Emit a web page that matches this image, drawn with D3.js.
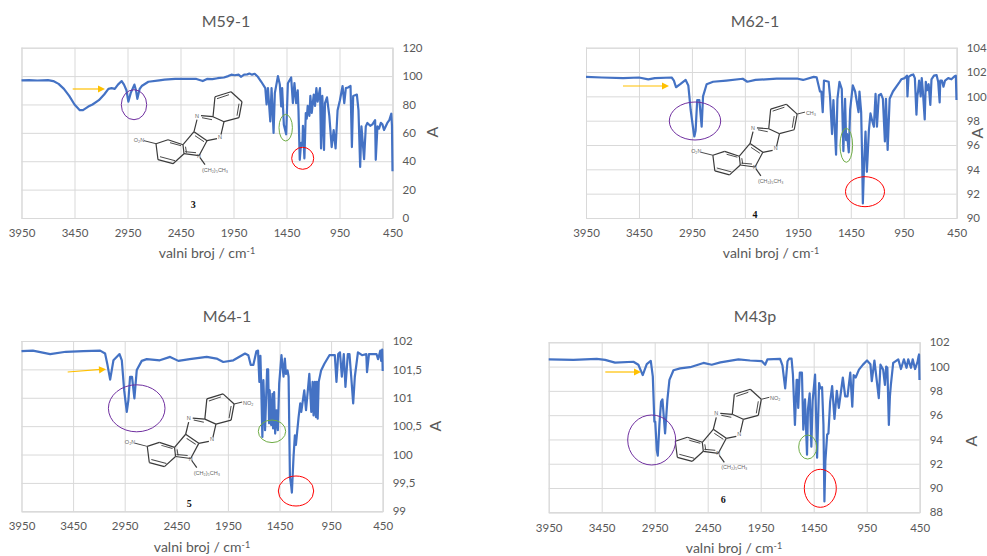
<!DOCTYPE html>
<html><head><meta charset="utf-8">
<style>html,body{margin:0;padding:0;background:#fff}svg{display:block}</style>
<script src="https://cdnjs.cloudflare.com/ajax/libs/d3/7.8.5/d3.min.js"></script>
</head><body><div id="c"></div>
<script>
// Spectra: [wavenumber, A]
const m59 = [[3950,97],[3880,97.2],[3800,96.9],[3700,97.2],[3650,96.5],[3600,94.5],[3550,91],[3500,86],[3450,80],[3400,76],[3370,76],[3320,78.5],[3280,80],[3220,83],[3170,87],[3130,91],[3100,91.5],[3070,91],[3040,94],[3005,96.5],[2983,94],[2960,90],[2942,82],[2920,88],[2885,94],[2870,90],[2857,84],[2835,91],[2816,93],[2753,96],[2650,97],[2600,97.5],[2500,98],[2400,98],[2300,98],[2240,96.5],[2200,98],[2150,97.8],[2100,98.5],[2040,99],[2000,100],[1970,101],[1940,100.6],[1900,101],[1880,99.5],[1850,101],[1820,101.2],[1800,101.8],[1775,101],[1750,101.6],[1720,99.5],[1688,96],[1650,91.5],[1638,80],[1625,91.5],[1603,68],[1591,91.5],[1572,60],[1560,88],[1531,100],[1513,94],[1500,78.6],[1491,91.5],[1475,65.7],[1453,59],[1437,95],[1406,99],[1390,81],[1375,95],[1359,81],[1344,90],[1337,76],[1325,41],[1312,53],[1300,51],[1295,65],[1281,42],[1268,74],[1259,70],[1250,79],[1234,72],[1225,86],[1212,74],[1193,87],[1181,79],[1168,91.5],[1156,82],[1134,91.5],[1124,49],[1112,86],[1096,48],[1087,81],[1068,85],[1046,72],[1024,50],[1005,62],[987,49],[968,76],[946,83],[921,93],[905,81],[890,91.5],[870,92],[846,93],[833,50],[821,86],[786,87],[771,76],[755,36],[743,64.5],[718,41.5],[702,64.5],[687,67],[660,65],[639,66],[614,69],[608,41],[592,64.5],[577,63],[560,67],[545,66],[530,62],[499,67],[480,69],[461,73.5],[455,65],[450,33]];

const m62 = [[3950,101.6],[3800,101.55],[3600,101.5],[3450,101.55],[3362,101.4],[3300,101.5],[3141,101.55],[3120,101.3],[3100,100.75],[3060,101],[3009,101.35],[2984,100.9],[2962,98.9],[2933,97],[2927,96.7],[2915,97.2],[2900,99.7],[2880,99.7],[2858,97.5],[2845,100],[2811,101],[2750,101.2],[2625,101.3],[2470,101.45],[2427,101.2],[2350,101.35],[2150,101.45],[1950,101.45],[1900,101.35],[1800,101.6],[1772,101.56],[1741,100.4],[1728,100.4],[1715,98.7],[1703,101.3],[1659,101.2],[1646,100],[1627,96.9],[1614,99.7],[1589,95.2],[1576,99.8],[1557,101.2],[1535,100.6],[1520,95.5],[1504,99.8],[1494,96.4],[1485,96.9],[1469,95.4],[1456,98.9],[1431,100.9],[1409,100.4],[1377,98.7],[1368,100.4],[1352,98.7],[1343,95],[1336,91.2],[1324,94.5],[1311,97.1],[1298,93.8],[1279,97.2],[1264,98.6],[1248,98],[1232,97.5],[1216,100.2],[1203,97.5],[1185,100.1],[1165,100.2],[1147,99.8],[1128,96.3],[1118,99.8],[1102,95.6],[1083,99.8],[1052,100.4],[995,101.1],[973,101.4],[941,101.5],[920,101.7],[915,100],[905,101.6],[880,101.75],[860,101.8],[845,101.5],[830,98.5],[822,100],[815,100.4],[805,101.3],[790,100],[780,101.5],[770,100.5],[752,98.1],[742,101.2],[730,100.5],[715,101],[699,99.3],[688,101.4],[665,101.7],[640,101.75],[625,101.2],[611,99.5],[605,101.3],[590,101.3],[575,100.8],[560,101.3],[530,101.5],[500,101.4],[470,101.65],[458,101.7],[452,99.7]];

const m64 = [[3950,101.82],[3840,101.83],[3672,101.77],[3520,101.81],[3350,101.82],[3188,101.83],[3140,101.78],[3117,101.58],[3091,101.32],[3059,101.66],[3000,101.77],[2978,101.66],[2955,101.13],[2930,100.75],[2914,100.96],[2898,101.37],[2879,101.37],[2856,100.99],[2833,101.49],[2785,101.65],[2736,101.68],[2610,101.66],[2510,101.72],[2430,101.65],[2320,101.68],[2155,101.72],[2060,101.69],[1995,101.63],[1897,101.66],[1784,101.78],[1752,101.75],[1729,101.58],[1703,101.58],[1674,101.82],[1658,101.83],[1645,101.28],[1635,101.74],[1628,101.28],[1616,100.31],[1606,101.31],[1590,100.43],[1570,101.5],[1560,101.5],[1551,100.55],[1545,101.13],[1531,100.52],[1518,101.07],[1512,100.46],[1502,101.1],[1492,100.37],[1479,100.78],[1466,100.43],[1453,101.25],[1431,101.75],[1411,101.37],[1398,101.69],[1388,101.42],[1372,101.48],[1362,101.37],[1349,99.61],[1336,99.44],[1330,99.33],[1314,99.96],[1301,100.34],[1291,100.17],[1265,100.66],[1249,100.9],[1239,100.75],[1210,101.13],[1193,100.78],[1161,101.42],[1142,100.75],[1129,101.28],[1120,100.69],[1107,101.28],[1097,100.66],[1088,101.28],[1080,100.63],[1070,101.28],[1047,101.48],[1015,101.6],[966,101.75],[914,101.75],[898,101.28],[881,101.77],[864,101.8],[846,101.37],[827,101.77],[811,101.19],[788,101.77],[772,101.77],[755,101.37],[736,100.9],[720,101.37],[690,101.8],[650,101.75],[609,101.77],[602,101.45],[583,101.77],[510,101.77],[495,101.68],[473,101.83],[465,101.65],[455,101.85],[450,101.47]];

const m43 = [[3950,100.6],[3717,100.55],[3497,100.64],[3418,100.55],[3324,100.33],[3151,100.4],[3104,100.15],[3063,99.3],[3025,100.2],[2987,100.47],[2968,99.2],[2953,95.47],[2945,95.47],[2930,93.1],[2921,92.67],[2905,95.3],[2890,97.1],[2877,97.3],[2852,94.5],[2830,97.3],[2811,98.9],[2773,99.7],[2710,99.85],[2616,99.95],[2490,100.3],[2412,100.15],[2330,100.35],[2160,100.6],[2050,100.5],[1940,100.45],[1908,100.15],[1886,100.6],[1767,100.64],[1745,100.1],[1719,98.2],[1697,100.44],[1681,100.66],[1659,100.66],[1646,99.34],[1627,95.2],[1611,98.9],[1604,98.9],[1596,96.6],[1581,99.5],[1561,99.5],[1548,94.8],[1532,97.3],[1513,92.75],[1504,96.5],[1488,97.8],[1472,93.4],[1460,97.2],[1437,99.34],[1418,92.5],[1399,98.65],[1387,98.2],[1371,98.3],[1358,95.2],[1349,88.9],[1340,92.2],[1323,94.4],[1311,94.5],[1295,97.1],[1276,98.4],[1254,95.7],[1232,98],[1213,96.6],[1175,99.1],[1153,97.55],[1131,97.55],[1105,99.5],[1086,96.7],[1073,99.3],[1054,99.1],[1023,99.75],[985,100.16],[947,100.5],[915,100.2],[902,98.8],[877,100.5],[836,97.4],[820,100.16],[795,99.75],[778,98.5],[766,100],[755,99.9],[741,95.2],[731,97.55],[722,98.5],[700,100.3],[652,100.6],[627,99.8],[599,100.6],[574,99.9],[558,100.6],[532,99.9],[516,100.6],[494,99.8],[470,100.4],[462,100.8],[456,101],[452,98.9]];

const xTickValues = [3950,3450,2950,2450,1950,1450,950,450];
const m59Ticks = [0,20,40,60,80,100,120];
const m62Ticks = [90,92,94,96,98,100,102,104];
const m64Ticks = [99,99.5,100,100.5,101,101.5,102];
const m43Ticks = [88,90,92,94,96,98,100,102];
const titles = ["M59-1","M62-1","M64-1","M43p"];
const compoundLabels = ["3","4","5","6"];
const xAxisLabel = "valni broj / cm";
const yAxisLabel = "A";

// Layout of the four panels
const panels = [
 {title:titles[0],data:m59,ticks:m59Ticks,no:compoundLabels[0],l:21.5,r:392.5,t:47.7,b:218,tx:226,ty:27,xl:207,xly:258,ax:432,ay:132,pad:11,
  arrow:[72.7,89,105,89],purple:[134,104.7,12.7,15],green:[285.7,127.7,6.7,13.3],red:[302.7,158.3,11,11],
  mol:[199,155.7,1],noAt:[193.3,207.5],left:"O₂N",right:null},
 {title:titles[1],data:m62,ticks:m62Ticks,no:compoundLabels[1],l:586,r:956.7,t:47.7,b:218,tx:755,ty:27,xl:771,xly:258,ax:977,ay:133,pad:11,
  arrow:[623,86,669,86],purple:[695,121,25.7,19],green:[846.3,145.3,6.3,17],red:[865,191.7,19.5,15],
  mol:[755,167,.98],noAt:[755,217.5],left:"O₂N",right:"CH₃"},
 {title:titles[2],data:m64,ticks:m64Ticks,no:compoundLabels[2],l:21.5,r:382.7,t:341,b:511.3,tx:227,ty:322,xl:202,xly:552,ax:435,ay:426,pad:11,
  arrow:[67.7,372,106,369.3],purple:[136.7,408.3,28.3,23.5],green:[272,431.3,13.7,11.3],red:[296,491,17.7,15],
  mol:[190.7,458.5,1.01],noAt:[189.3,506.5],left:"O₂N",right:"NO₂"},
 {title:titles[3],data:m43,ticks:m43Ticks,no:compoundLabels[3],l:548.7,r:919.7,t:342.3,b:512.3,tx:755,ty:322,xl:734,xly:553,ax:971,ay:441,pad:12,
  arrow:[605.3,372,641,372],purple:[651.7,440,24,25],green:[807.7,447,9,12],red:[820.3,488.3,16,19],
  mol:[718.3,453.3,1],noAt:[723.3,502.5],left:null,right:"NO₂"}
];

// Skeleton of the drawn formula, offsets from the ring nitrogen
const ringBonds = [
 [-31,-16,-16,-11],[-16,-11,-15,-2],[-15,-2,-26,8],[-26,8,-41,4],[-41,4,-43,-12],[-43,-12,-31,-16],
 [-16,-11,-5,-24],[-5,-24,8,-15],[8,-15,0,0],[0,0,-15,-2],
 [-5,-24,-2,-36],[2,-40,14,-39],[14,-39,25,-34],[25,-34,22,-21],[18,-17,8,-15],
 [14,-39,16,-59],[16,-59,32,-64],[32,-64,43,-54],[43,-54,40,-38],[40,-38,25,-34],
 [1,2,6,9]
];
const doubleBonds = [
 [-29,-13,-18,-10],[-24,5,-39,1],[-13.5,-9,-12.5,-3],[-4,-20,5,-14],[3,-38,13,-36],[18,-57,30,-61],[40,-52,38,-40],[-14,-4,-3,-3]
];

const svg = d3.select("#c").append("svg").attr("width",987).attr("height",556);
const font = "Lato, 'Open Sans', sans-serif";
const textColor = "#595959", gridColor = "#d9d9d9";

panels.forEach(p=>{
  const x = d3.scaleLinear().domain([3950,450]).range([p.l,p.r]);
  const y = d3.scaleLinear().domain(d3.extent(p.ticks)).range([p.b,p.t]);
  const fmt = v => String(v).replace(".",",");

  const gx = svg.append("g").attr("transform",`translate(0,${p.b})`)
    .call(d3.axisBottom(x).tickValues(xTickValues).tickSize(-(p.b-p.t)).tickPadding(p.pad).tickFormat(d=>d));
  const gy = svg.append("g").attr("transform",`translate(${p.r},0)`)
    .call(d3.axisRight(y).tickValues(p.ticks).tickSize(-(p.r-p.l)).tickPadding(10).tickFormat(fmt));
  [gx,gy].forEach(g=>{
    g.selectAll("line").attr("stroke",gridColor).attr("stroke-width",1);
    g.select(".domain").attr("stroke",gridColor).attr("stroke-width",1);
    g.selectAll("text").attr("fill",textColor).style("font-family",font).style("font-size","11.5px");
  });

  svg.append("text").attr("x",p.tx).attr("y",p.ty).attr("text-anchor","middle")
    .attr("fill",textColor).style("font-family",font).style("font-size","16px").text(p.title);

  const xl = svg.append("text").attr("x",p.xl).attr("y",p.xly).attr("text-anchor","middle")
    .attr("fill",textColor).style("font-family",font).style("font-size","14px").text(xAxisLabel);
  xl.append("tspan").attr("dy",-4).style("font-size","9px").text("-1");

  svg.append("text").attr("transform",`translate(${p.ax},${p.ay}) rotate(-90)`).attr("text-anchor","middle")
    .attr("dy","0.35em").attr("fill",textColor).style("font-family",font).style("font-size","16px").text(yAxisLabel);

  // formula
  const [mx,my,ms] = p.mol;
  const m = svg.append("g").attr("transform",`translate(${mx},${my}) scale(${ms})`);
  m.selectAll(".b").data(ringBonds).enter().append("line")
    .attr("x1",d=>d[0]).attr("y1",d=>d[1]).attr("x2",d=>d[2]).attr("y2",d=>d[3])
    .attr("stroke","#3a3a3a").attr("stroke-width",1.2);
  m.selectAll(".d").data(doubleBonds).enter().append("line")
    .attr("x1",d=>d[0]).attr("y1",d=>d[1]).attr("x2",d=>d[2]).attr("y2",d=>d[3])
    .attr("stroke","#4a4a4a").attr("stroke-width",1);
  const small = (tx,ty,t)=>m.append("text").attr("x",tx).attr("y",ty).attr("text-anchor","middle")
    .attr("fill","#666").style("font-family","'Liberation Sans',sans-serif").style("font-size","5.5px").text(t);
  small(-2,-38,"N"); small(21,-17,"N"); small(0,2,"N");
  small(16,16,"(CH₂)₅CH₃");
  if(p.left){
    small(-60,-14,p.left);
    m.append("line").attr("x1",-55).attr("y1",-15).attr("x2",-43).attr("y2",-12).attr("stroke","#444").attr("stroke-width",1);
  }
  if(p.right){
    small(57,-53,p.right);
    m.append("line").attr("x1",43).attr("y1",-54).attr("x2",51).attr("y2",-56).attr("stroke","#444").attr("stroke-width",1);
  }
  svg.append("text").attr("x",p.noAt[0]).attr("y",p.noAt[1]).attr("text-anchor","middle")
    .attr("fill","#111").style("font-family","'Liberation Serif',serif").style("font-weight","bold").style("font-size","10px").text(p.no);

  // spectrum
  const line = d3.line().x(d=>x(d[0])).y(d=>y(d[1]));
  svg.append("path").datum(p.data).attr("d",line).attr("fill","none")
    .attr("stroke","#4472C4").attr("stroke-width",2.2).attr("stroke-linejoin","round");

  // annotations
  const ell = (a,c)=>svg.append("ellipse").attr("cx",a[0]).attr("cy",a[1]).attr("rx",a[2]).attr("ry",a[3])
    .attr("fill","none").attr("stroke",c).attr("stroke-width",1);
  ell(p.purple,"#7030A0"); ell(p.green,"#70AD47"); ell(p.red,"#FF0000");

  const [ax1,ay1,ax2,ay2] = p.arrow;
  const ang = Math.atan2(ay2-ay1,ax2-ax1)*180/Math.PI;
  svg.append("line").attr("x1",ax1).attr("y1",ay1).attr("x2",ax2-5).attr("y2",ay2)
    .attr("stroke","#FFC000").attr("stroke-width",1.2);
  svg.append("path").attr("d","M0,0L-7,-3.6L-7,3.6Z").attr("fill","#FFC000")
    .attr("transform",`translate(${ax2},${ay2}) rotate(${ang})`);
});
</script></body></html>
